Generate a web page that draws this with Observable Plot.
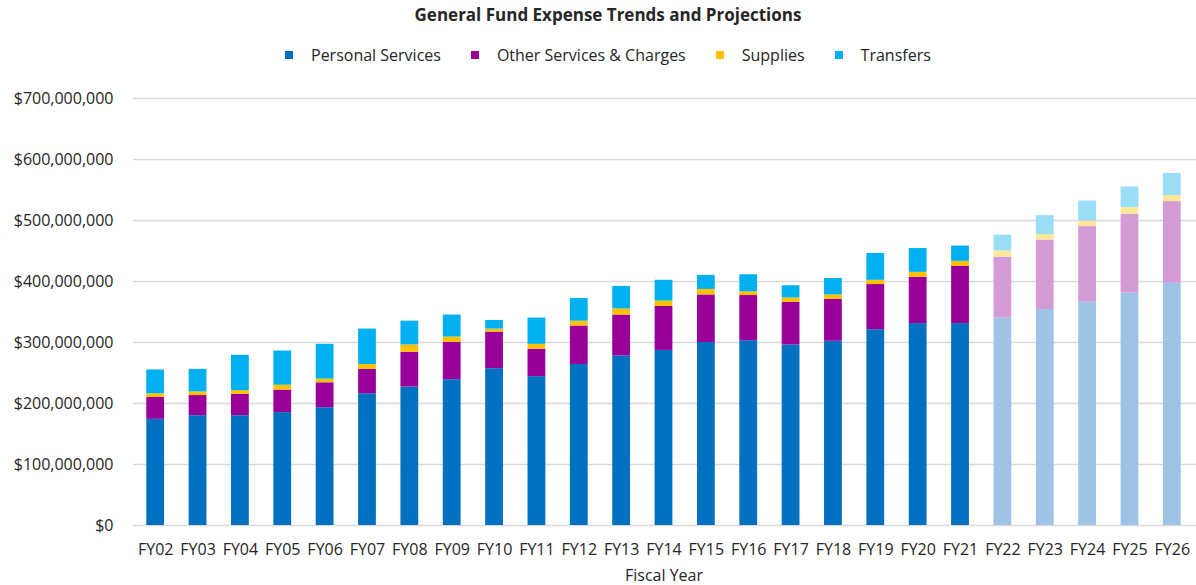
<!DOCTYPE html>
<html>
<head>
<meta charset="utf-8">
<script src="https://cdn.jsdelivr.net/npm/d3@7"></script>
<script src="https://cdn.jsdelivr.net/npm/@observablehq/plot@0.6"></script>
<style>
  html, body { margin: 0; padding: 0; background: #fff; }
  body { width: 1196px; height: 585px; position: relative; overflow: hidden; font-family: "Open Sans", sans-serif; color: #262626; }
  #title { position: absolute; top: 3px; left: 10px; width: 1196px; text-align: center; font-weight: bold; font-size: 17px; }
  #legend { position: absolute; top: 44px; left: 285px; display: flex; align-items: center; font-size: 16px; }
  #legend .sw { width: 8px; height: 8px; margin-right: 18px; }
  #legend .lb { margin-right: 30px; }
  #chart { position: absolute; top: 80px; left: 0; }
</style>
</head>
<body>
<div id="title">General Fund Expense Trends and Projections</div>
<div id="legend"></div>
<div id="chart"></div>
<script>
const years = ["FY02","FY03","FY04","FY05","FY06","FY07","FY08","FY09","FY10","FY11","FY12","FY13","FY14","FY15","FY16","FY17","FY18","FY19","FY20","FY21","FY22","FY23","FY24","FY25","FY26"];
const projectedYears = ["FY22","FY23","FY24","FY25","FY26"];
const categories = ["Personal Services","Other Services & Charges","Supplies","Transfers"];
const actualColors = ["#0070C0","#990099","#FFC000","#00B0F0"];
const projectedColors = ["#9DC3E6","#D59BD6","#FFE699","#99DDF7"];
// values in dollars
const personalServices = [174e6,180e6,180e6,185e6,193e6,216e6,227e6,239e6,257e6,244e6,264e6,278e6,287e6,300e6,303e6,296e6,302e6,321e6,331e6,331e6,340e6,354e6,366e6,381e6,397e6];
const otherServices    = [36e6,33e6,35e6,37e6,41e6,40e6,57e6,61e6,60e6,45e6,63e6,67e6,72e6,78e6,74e6,70e6,69e6,74e6,76e6,94e6,100e6,114e6,124e6,129e6,134e6];
const supplies         = [6e6,6e6,6e6,8e6,6e6,8e6,12e6,9e6,5e6,8e6,8e6,10e6,9e6,9e6,6e6,7e6,7e6,7e6,8e6,8e6,10e6,9e6,9e6,11e6,10e6];
const transfers        = [39e6,37e6,58e6,56e6,57e6,58e6,39e6,36e6,14e6,43e6,37e6,37e6,34e6,23e6,28e6,20e6,27e6,44e6,39e6,25e6,26e6,31e6,33e6,34e6,36e6];
const yTicks = [0,100e6,200e6,300e6,400e6,500e6,600e6,700e6];

const series = [personalServices, otherServices, supplies, transfers];
const data = [];
years.forEach((fy, i) => {
  const proj = projectedYears.includes(fy);
  categories.forEach((cat, j) => {
    data.push({fy, category: cat, key: cat + (proj ? " (P)" : ""), value: series[j][i]});
  });
});
const colorDomain = categories.concat(categories.map(c => c + " (P)"));
const colorRange = actualColors.concat(projectedColors);

// legend
const legend = document.getElementById("legend");
categories.forEach((c, j) => {
  const sw = document.createElement("span"); sw.className = "sw"; sw.style.background = actualColors[j];
  const lb = document.createElement("span"); lb.className = "lb"; lb.textContent = c;
  legend.appendChild(sw); legend.appendChild(lb);
});

const chart = Plot.plot({
  width: 1196,
  height: 505,
  marginTop: 18,
  marginBottom: 60,
  marginLeft: 134,
  marginRight: 3,
  style: {fontFamily: "Open Sans", fontSize: "16px", color: "#262626", background: "transparent"},
  x: {domain: years, paddingInner: 0.58, paddingOuter: 0.29, round: false, label: null},
  y: {domain: [0, 700e6], label: null},
  color: {domain: colorDomain, range: colorRange},
  marks: [
    Plot.ruleY(yTicks, {stroke: "#D9D9D9", strokeWidth: 1.5, insetLeft: -1, insetRight: -3}),
    Plot.barY(data, {x: "fy", y: "value", fill: "key", order: null}),
    Plot.axisY(yTicks, {tickSize: 0, tickPadding: 21, tickFormat: d3.format("$,.0f"), label: null, fontSize: 16}),
    Plot.axisX({tickSize: 0, tickPadding: 18, label: "Fiscal Year", labelAnchor: "center", labelOffset: 55, fontSize: 16})
  ]
});
document.getElementById("chart").appendChild(chart);
</script>
</body>
</html>
